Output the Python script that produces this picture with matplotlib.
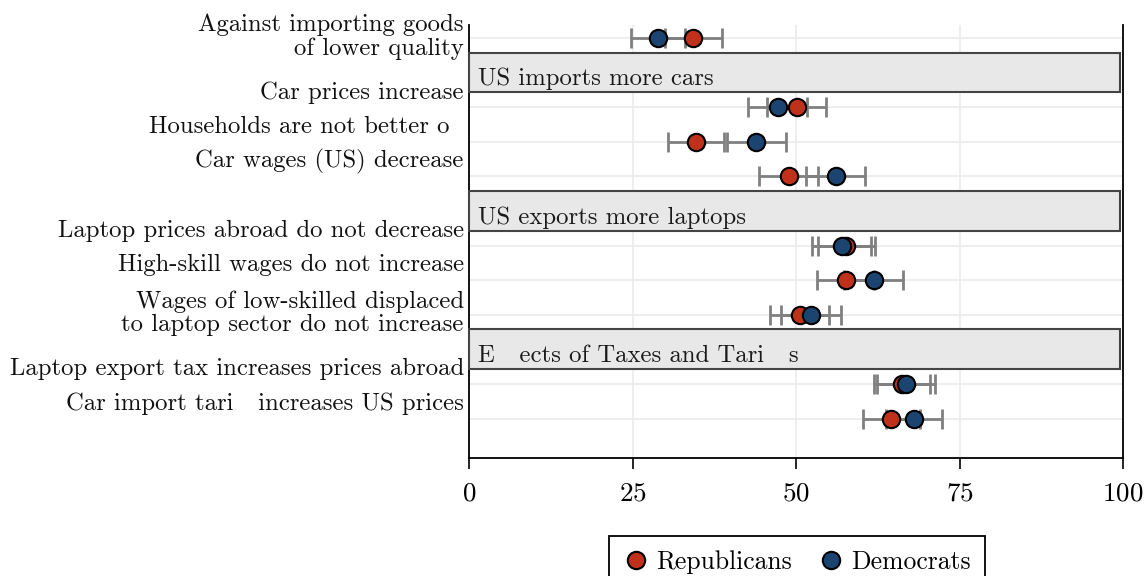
import matplotlib
matplotlib.use("Agg")
import matplotlib.pyplot as plt
import matplotlib.transforms as mtransforms
from matplotlib.lines import Line2D
from matplotlib.patches import Rectangle

plt.rcParams['font.family'] = ['cmr10', 'DejaVu Serif']
plt.rcParams['axes.formatter.use_mathtext'] = True
plt.rcParams['mathtext.fontset'] = 'cm'

# данные: строки графика (сверху вниз)
statements = [
    "Against importing goods\nof lower quality",
    "Car prices increase",
    "Households are not better o",
    "Car wages (US) decrease",
    "Laptop prices abroad do not decrease",
    "High-skill wages do not increase",
    "Wages of low-skilled displaced\nto laptop sector do not increase",
    "Laptop export tax increases prices abroad",
    "Car import tari   increases US prices",
]
rows = [0, 2, 3, 4, 6, 7, 8, 10, 11]
rep_mean = [34.3, 50.1, 34.7, 48.9, 57.7, 57.6, 50.6, 66.2, 64.6]
rep_err = [4.4, 4.5, 4.3, 4.5, 4.4, 4.4, 4.5, 4.3, 4.3]
dem_mean = [28.9, 47.2, 43.9, 56.1, 57.0, 61.9, 52.3, 66.8, 68.1]
dem_err = [4.1, 4.5, 4.5, 4.5, 4.5, 4.5, 4.6, 4.4, 4.3]

sections = ["US imports more cars", "US exports more laptops", "E   ects of Taxes and Tari   s"]
section_rows = [1, 5, 9]

RED = '#c0311c'
BLUE = '#1c4470'
GREY = '#808080'
FS = 17.8

fig = plt.figure(figsize=(11.45, 5.76), dpi=100)
ax = fig.add_axes([469 / 1145, 1 - 458 / 576, 654 / 1145, 433 / 576])

ax.set_xlim(0, 100)
ax.set_ylim(12.14, -0.38)

for x in [25, 50, 75]:
    ax.axvline(x, color='#ebebeb', lw=1.2, zorder=0)
for r in rows:
    ax.axhline(r, color='#ebebeb', lw=1.2, zorder=0)

ax.errorbar(rep_mean, rows, xerr=rep_err, fmt='none', ecolor=GREY,
            elinewidth=2, capsize=7, capthick=2, zorder=2)
ax.errorbar(dem_mean, rows, xerr=dem_err, fmt='none', ecolor=GREY,
            elinewidth=2, capsize=7, capthick=2, zorder=2)
ax.plot(rep_mean, rows, 'o', ms=12.5, mfc=RED, mec='black', mew=1.5, zorder=3)
ax.plot(dem_mean, rows, 'o', ms=12.5, mfc=BLUE, mec='black', mew=1.5, zorder=4)

for name, r in zip(sections, section_rows):
    ax.add_patch(Rectangle((0, r - 0.58), 99.5, 1.15, facecolor='#e8e8e8',
                           edgecolor='#444444', lw=1.5, zorder=5, clip_on=False))
    ax.text(1.3, r + 0.36, name, fontsize=FS, va='baseline', ha='left',
            color='#1a1a1a', zorder=6)

trans = mtransforms.blended_transform_factory(ax.transAxes, ax.transData)
for name, r in zip(statements, rows):
    if '\n' in name:
        y = r - 0.05
    else:
        y = r - 0.43
    dx = -0.008
    if name.endswith('better o'):
        dx = -0.03
    ax.text(dx, y, name, transform=trans, ha='right', va='center',
            fontsize=FS, multialignment='right', linespacing=1.08,
            color='#111111')

ax.set_yticks([])
ax.set_xticks([0, 25, 50, 75, 100])
ax.tick_params(axis='x', length=8, width=1.2, labelsize=19.5, pad=9)
ax.spines['top'].set_visible(False)
for s in ['left', 'right', 'bottom']:
    ax.spines[s].set_linewidth(1.3)

handles = [
    Line2D([], [], ls='none', marker='o', ms=12.5, mfc=RED, mec='black', mew=1.5),
    Line2D([], [], ls='none', marker='o', ms=12.5, mfc=BLUE, mec='black', mew=1.5),
]
leg = fig.legend(handles, ['Republicans', 'Democrats'], ncol=2,
                 loc='upper center', bbox_to_anchor=(797 / 1145, 1 - 536 / 576),
                 borderaxespad=0, fontsize=18.5, frameon=True, fancybox=False,
                 framealpha=1, edgecolor='black', handletextpad=0.3,
                 columnspacing=1.0, borderpad=0.55, handlelength=1.0)
leg.get_frame().set_linewidth(1.3)

fig.savefig('out.png', dpi=100)
